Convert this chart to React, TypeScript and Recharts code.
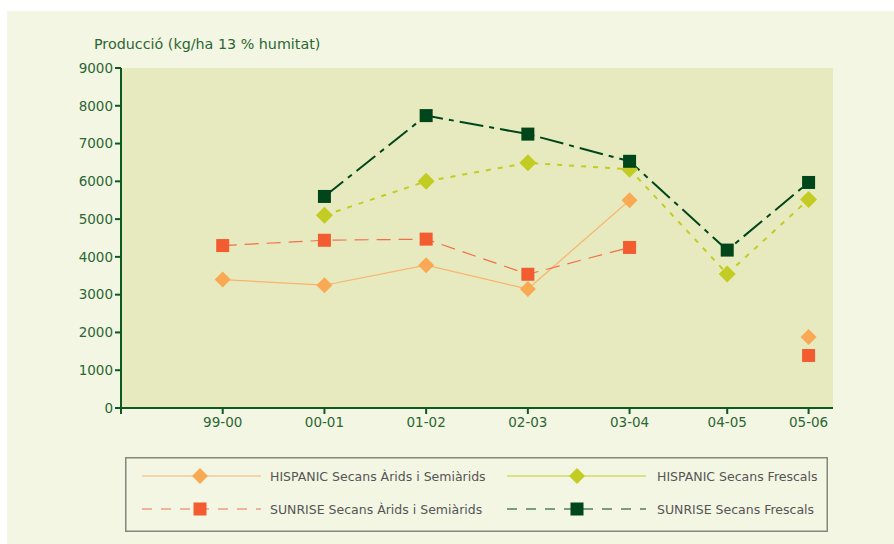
import React from 'react';
import { LineChart, Line, XAxis, YAxis, CartesianGrid, Legend } from 'recharts';

const seasons = ['99-00', '00-01', '01-02', '02-03', '03-04', '04-05', '05-06'];
// horizontal position of each season on the axis (the source spacing is uneven)
const seasonPos = [1, 2, 3, 4, 5, 5.96, 6.76];

const hispanicArids = [3400, 3250, 3780, 3150, 5500, null, 1880];
const sunriseArids = [4300, 4440, 4470, 3540, 4250, null, 1390];
const hispanicFrescals = [null, 5100, 6000, 6490, 6320, 3550, 5520];
const sunriseFrescals = [null, 5600, 7740, 7250, 6530, 4180, 5970];

const yTicks = [0, 1000, 2000, 3000, 4000, 5000, 6000, 7000, 8000, 9000];

const ORANGE = '#f9a854';
const ORANGE_LINE = '#f8b46c';
const RED = '#f25c30';
const RED_LINE = '#f0704c';
const LIME = '#c3cc22';
const DARK = '#00461a';
const AXIS = '#0d5a1e';
const TEXT = '#2c6634';
const FONT = '"DejaVu Sans", sans-serif';

const data = seasons.map((s, i) => ({
    x: seasonPos[i],
    season: s,
    hispanicArids: hispanicArids[i],
    sunriseArids: sunriseArids[i],
    hispanicFrescals: hispanicFrescals[i],
    sunriseFrescals: sunriseFrescals[i],
}));

const Diamond = (color: string, r: number) => (props: any) => {
    const { cx, cy, value, key } = props;
    if (cx == null || cy == null || value == null) return <g key={key} />;
    return (
        <polygon
            key={key}
            points={`${cx},${cy - r} ${cx + r},${cy} ${cx},${cy + r} ${cx - r},${cy}`}
            fill={color}
        />
    );
};

const Square = (color: string, s: number) => (props: any) => {
    const { cx, cy, value, key } = props;
    if (cx == null || cy == null || value == null) return <g key={key} />;
    return <rect key={key} x={cx - s / 2} y={cy - s / 2} width={s} height={s} fill={color} />;
};

const tickLabel = (v: number) => {
    const i = seasonPos.indexOf(v);
    return i >= 0 ? seasons[i] : '';
};

const LegendBox = () => {
    const rows = [
        { x0: 17, x1: 136, mx: 75, tx: 145, y: 19, stroke: ORANGE_LINE, dash: undefined, marker: 'd', color: ORANGE, label: 'HISPANIC Secans Àrids i Semiàrids' },
        { x0: 382, x1: 521, mx: 452, tx: 532, y: 19, stroke: LIME, dash: undefined, marker: 'd', color: LIME, label: 'HISPANIC Secans Frescals' },
        { x0: 17, x1: 136, mx: 75, tx: 145, y: 52, stroke: RED_LINE, dash: '10 9', marker: 's', color: RED, label: 'SUNRISE Secans Àrids i Semiàrids' },
        { x0: 382, x1: 521, mx: 452, tx: 532, y: 52, stroke: DARK, dash: '10 9', marker: 's', color: DARK, label: 'SUNRISE Secans Frescals' },
    ];
    return (
        <svg width={703} height={75} style={{ display: 'block' }}>
            <rect x={0.75} y={0.75} width={701.5} height={73.5} fill="none" stroke="#85877c" strokeWidth={1.5} />
            {rows.map((r) => (
                <g key={r.label}>
                    <line x1={r.x0} x2={r.x1} y1={r.y} y2={r.y} stroke={r.stroke} strokeWidth={1.2} strokeDasharray={r.dash} />
                    {r.marker === 'd' ? (
                        <polygon points={`${r.mx},${r.y - 8} ${r.mx + 8},${r.y} ${r.mx},${r.y + 8} ${r.mx - 8},${r.y}`} fill={r.color} />
                    ) : (
                        <rect x={r.mx - 6.5} y={r.y - 6.5} width={13} height={13} fill={r.color} />
                    )}
                    <text x={r.tx} y={r.y} dominantBaseline="central" fill="#555" fontSize={12.5} fontFamily={FONT}>
                        {r.label}
                    </text>
                </g>
            ))}
        </svg>
    );
};

export default function App() {
    return (
        <div style={{ position: 'absolute', left: 7, top: 11, width: 887, height: 533, background: '#f3f6e3', fontFamily: FONT }}>
            <div style={{ position: 'absolute', left: 87, top: 25, fontSize: 14.3, color: TEXT, whiteSpace: 'nowrap' }}>
                Producció (kg/ha 13 % humitat)
            </div>
            <LineChart width={887} height={533} data={data} margin={{ top: 57, right: 61, left: 54, bottom: 106 }}>
                <CartesianGrid horizontal={false} vertical={false} fill="#e7eabf" stroke="none" />
                <XAxis
                    type="number"
                    dataKey="x"
                    domain={[0, 7]}
                    ticks={[0, ...seasonPos]}
                    tickFormatter={tickLabel}
                    height={30}
                    tickSize={6}
                    tickMargin={3}
                    axisLine={{ stroke: AXIS, strokeWidth: 2 }}
                    tickLine={{ stroke: AXIS, strokeWidth: 2 }}
                    tick={{ fill: TEXT, fontSize: 13.5, fontFamily: FONT }}
                    interval={0}
                />
                <YAxis
                    domain={[0, 9000]}
                    ticks={yTicks}
                    width={60}
                    tickSize={6}
                    tickMargin={2}
                    axisLine={{ stroke: AXIS, strokeWidth: 2 }}
                    tickLine={{ stroke: AXIS, strokeWidth: 2 }}
                    tick={{ fill: TEXT, fontSize: 13.5, fontFamily: FONT }}
                    interval={0}
                />
                <Legend
                    layout="horizontal"
                    verticalAlign="middle"
                    wrapperStyle={{ left: 118, top: 446, width: 703, height: 75 }}
                    content={() => <LegendBox />}
                />
                <Line
                    dataKey="hispanicArids"
                    type="linear"
                    stroke={ORANGE_LINE}
                    strokeWidth={1.2}
                    dot={Diamond(ORANGE, 8)}
                    activeDot={false}
                    isAnimationActive={false}
                />
                <Line
                    dataKey="sunriseArids"
                    type="linear"
                    stroke={RED_LINE}
                    strokeWidth={1.2}
                    strokeDasharray="14 8"
                    dot={Square(RED, 13)}
                    activeDot={false}
                    isAnimationActive={false}
                />
                <Line
                    dataKey="hispanicFrescals"
                    type="linear"
                    stroke={LIME}
                    strokeWidth={2}
                    strokeDasharray="5 7"
                    dot={Diamond(LIME, 8.5)}
                    activeDot={false}
                    isAnimationActive={false}
                />
                <Line
                    dataKey="sunriseFrescals"
                    type="linear"
                    stroke={DARK}
                    strokeWidth={2}
                    strokeDasharray="24 6 5 6"
                    dot={Square(DARK, 13)}
                    activeDot={false}
                    isAnimationActive={false}
                />
            </LineChart>
        </div>
    );
}
